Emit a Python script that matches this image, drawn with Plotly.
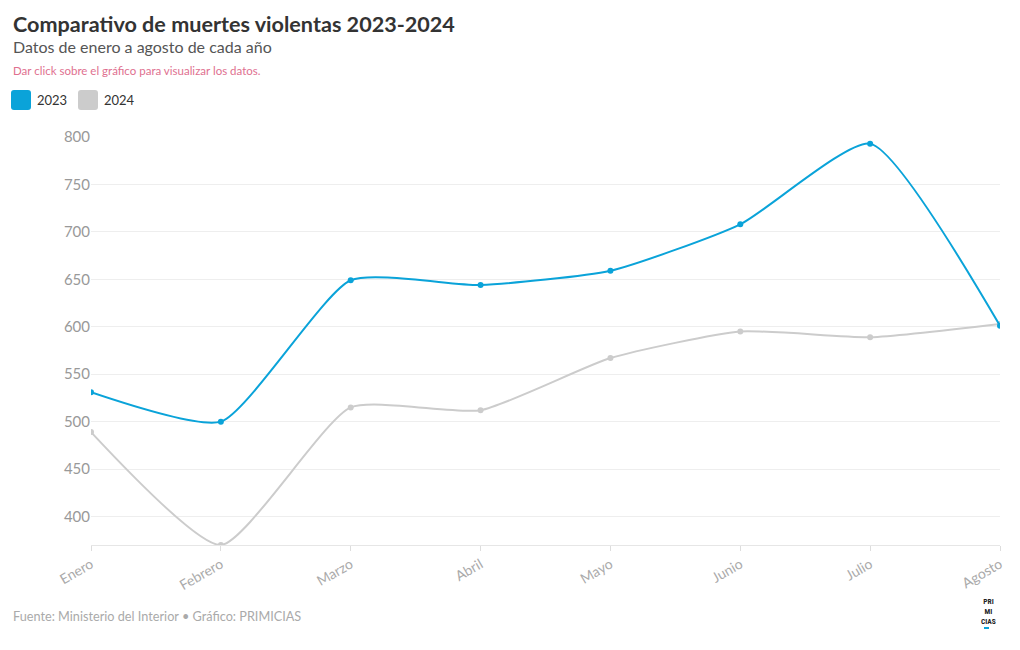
import plotly.graph_objects as go

months = ["Enero", "Febrero", "Marzo", "Abril", "Mayo", "Junio", "Julio", "Agosto"]
deaths_2023 = [531, 500, 649, 644, 659, 708, 793, 601]
deaths_2024 = [489, 370, 515, 512, 567, 595, 589, 603]
y_ticks = [400, 450, 500, 550, 600, 650, 700, 750, 800]

BLUE = "#0aa3d9"
GRAY = "#cccccc"
FONT = "Lato"

OFF = 8  # page body margin offset
W, H = 1020, 650
L, T = 91 - OFF, 137 - OFF
R, B = W - (1000 - OFF), H - (545 - OFF)
PW, PH = W - L - R, H - T - B

def px(x):
    return (x - OFF - L) / PW

def py(y):
    return (H - B - (y - OFF)) / PH

fig = go.Figure()
fig.add_trace(go.Scatter(x=months, y=deaths_2024, name="2024", mode="lines+markers",
                         line=dict(color=GRAY, width=2, shape="spline", smoothing=0.55),
                         marker=dict(color=GRAY, size=6), showlegend=False))
fig.add_trace(go.Scatter(x=months, y=deaths_2023, name="2023", mode="lines+markers",
                         line=dict(color=BLUE, width=2, shape="spline", smoothing=0.55),
                         marker=dict(color=BLUE, size=6), showlegend=False))

def rounded_box(x0, x1, y0, y1, r=3):
    return (f"M{x0+r},{y0} L{x1-r},{y0} Q{x1},{y0} {x1},{y0+r} L{x1},{y1-r} Q{x1},{y1} {x1-r},{y1} "
            f"L{x0+r},{y1} Q{x0},{y1} {x0},{y1-r} L{x0},{y0+r} Q{x0},{y0} {x0+r},{y0} Z")

shapes = []
for (bx, col) in [(11, BLUE), (78, GRAY)]:
    shapes.append(dict(type="path", xref="paper", yref="paper", xsizemode="pixel", ysizemode="pixel",
                       xanchor=0, yanchor=1,
                       path=rounded_box(bx - 91, bx + 20 - 91, 27, 47),
                       fillcolor=col, line=dict(width=0)))

annotations = [
    dict(text="<b>Comparativo de muertes violentas 2023-2024</b>", x=px(11), y=py(24),
         font=dict(family=FONT, size=21.6, color="#333333")),
    dict(text="Datos de enero a agosto de cada año", x=px(11), y=py(47),
         font=dict(family=FONT, size=16, color="#555555")),
    dict(text="Dar click sobre el gráfico para visualizar los datos.", x=px(11), y=py(71),
         font=dict(family=FONT, size=11.5, color="#e0708f")),
    dict(text="2023", x=px(35), y=py(100), font=dict(family=FONT, size=13, color="#333333")),
    dict(text="2024", x=px(102), y=py(100), font=dict(family=FONT, size=13, color="#333333")),
    dict(text="Fuente: Ministerio del Interior • Gráfico: PRIMICIAS", x=px(11), y=py(616),
         font=dict(family=FONT, size=12.7, color="#aaaaaa")),
    dict(text="<b>PRI<br>MI<br>CIAS</b>", x=px(988), y=py(611), align="center", xanchor="center",
         font=dict(family="Roboto Condensed, Roboto, " + FONT, size=7.5, color="#222222")),
]
for a in annotations:
    a.update(xref="paper", yref="paper", showarrow=False, yanchor="middle")
    if "xanchor" not in a:
        a["xanchor"] = "left"

shapes.append(dict(type="line", xref="paper", yref="paper", x0=px(984), x1=px(989), y0=py(628), y1=py(628),
                   line=dict(color=BLUE, width=2)))

fig.update_layout(
    width=W, height=H,
    margin=dict(l=L, r=R, t=T, b=B),
    paper_bgcolor="white", plot_bgcolor="white",
    shapes=shapes, annotations=annotations,
    showlegend=False,
    xaxis=dict(showgrid=False, showline=True, linecolor="#e6e6e6", linewidth=1,
               ticks="outside", ticklen=5, tickcolor="#dddddd", tickangle=-30,
               tickfont=dict(family=FONT, size=14, color="#aaaaaa"),
               range=[0, 7], zeroline=False),
    yaxis=dict(range=[370, 800], tickvals=y_ticks, showgrid=True, gridcolor="#eeeeee",
               zeroline=False, showline=False, ticks="",
               tickfont=dict(family=FONT, size=15, color="#999999")),
)

fig.write_html("out.html")
